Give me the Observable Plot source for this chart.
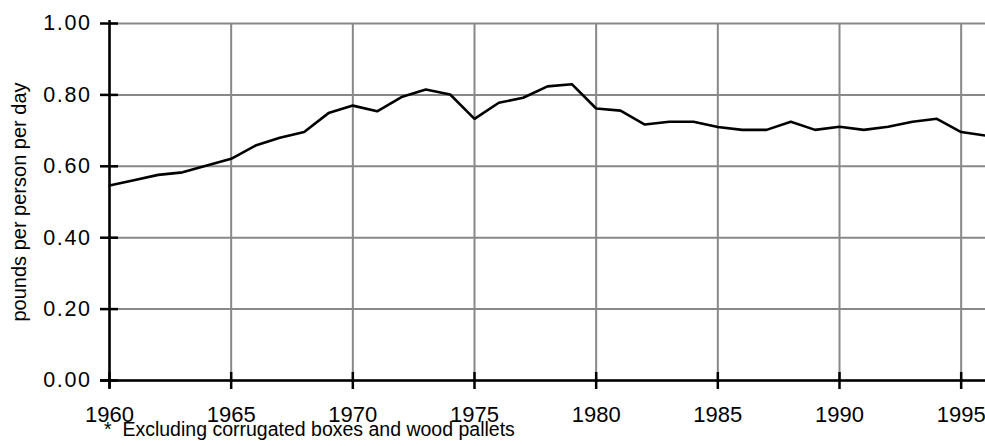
<!DOCTYPE html>
<html>
<head>
<meta charset="utf-8">
<script src="https://cdn.jsdelivr.net/npm/d3@7"></script>
<script src="https://cdn.jsdelivr.net/npm/@observablehq/plot@0.6"></script>
<style>
  html, body { margin: 0; padding: 0; background: #fff; }
  #wrap { position: relative; width: 985px; height: 446px; font-family: "Liberation Sans", Arial, sans-serif; }
  #note { position: absolute; left: 104px; top: 420px; font-size: 19.5px; line-height: 19px; white-space: pre; color: #000; }
  g[aria-label="y-axis tick label"] text { letter-spacing: 1.6px; }
</style>
</head>
<body>
<div id="wrap"></div>
<script>
const years = [1960,1961,1962,1963,1964,1965,1966,1967,1968,1969,1970,1971,1972,1973,1974,1975,1976,1977,1978,1979,1980,1981,1982,1983,1984,1985,1986,1987,1988,1989,1990,1991,1992,1993,1994,1995,1996];
const pounds = [0.546,0.561,0.576,0.583,0.602,0.621,0.658,0.680,0.696,0.749,0.770,0.754,0.794,0.815,0.801,0.733,0.778,0.792,0.824,0.830,0.762,0.756,0.717,0.725,0.725,0.710,0.702,0.702,0.725,0.702,0.711,0.702,0.711,0.725,0.733,0.696,0.686];
const xTicks = [1960,1965,1970,1975,1980,1985,1990,1995];
const yTicks = [0,0.2,0.4,0.6,0.8,1.0];
const yLabel = "pounds per person per day";
const footnote = "*  Excluding corrugated boxes and wood pallets";

const data = years.map((y, i) => ({year: y, value: pounds[i]}));

const chart = Plot.plot({
  width: 985,
  height: 446,
  marginTop: 23,
  marginBottom: 66,
  marginLeft: 109,
  marginRight: 0,
  style: {fontFamily: "Liberation Sans, Arial, sans-serif", fontSize: "21px", color: "#000", background: "#fff", overflow: "visible"},
  x: {domain: [1960, 1996]},
  y: {domain: [0, 1]},
  marks: [
    Plot.gridX(xTicks, {stroke: "#888", strokeOpacity: 1, strokeWidth: 2}),
    Plot.gridY(yTicks, {stroke: "#888", strokeOpacity: 1, strokeWidth: 2}),
    Plot.ruleX([1960], {stroke: "#000", strokeWidth: 2.5, insetTop: -3, insetBottom: -8}),
    Plot.ruleY([0], {stroke: "#000", strokeWidth: 2.5, insetLeft: -9}),
    Plot.ruleX(xTicks, {x: d => d, y1: 0, y2: 0, stroke: "#000", strokeWidth: 2.5, insetTop: -8, insetBottom: -9}),
    Plot.ruleY(yTicks, {y: d => d, x1: 1960, x2: 1960, stroke: "#000", strokeWidth: 2.5, insetLeft: -9, insetRight: -9}),
    Plot.axisX(xTicks, {tickSize: 0, tickPadding: 26, tickFormat: d => String(d), label: null, fontSize: 22}),
    Plot.axisY(yTicks, {tickSize: 0, tickPadding: 18, tickFormat: d3.format(".2f"), label: null, fontSize: 21.5}),
    Plot.axisY({tickSize: 0, ticks: [], label: yLabel, labelAnchor: "center", labelArrow: "none", labelOffset: 98, fontSize: 20}),
    Plot.line(data, {x: "year", y: "value", stroke: "#000", strokeWidth: 2.6, strokeLinejoin: "miter"})
  ]
});
const wrap = document.getElementById("wrap");
wrap.appendChild(chart);
const note = document.createElement("div");
note.id = "note";
note.textContent = footnote;
wrap.appendChild(note);
</script>
</body>
</html>
